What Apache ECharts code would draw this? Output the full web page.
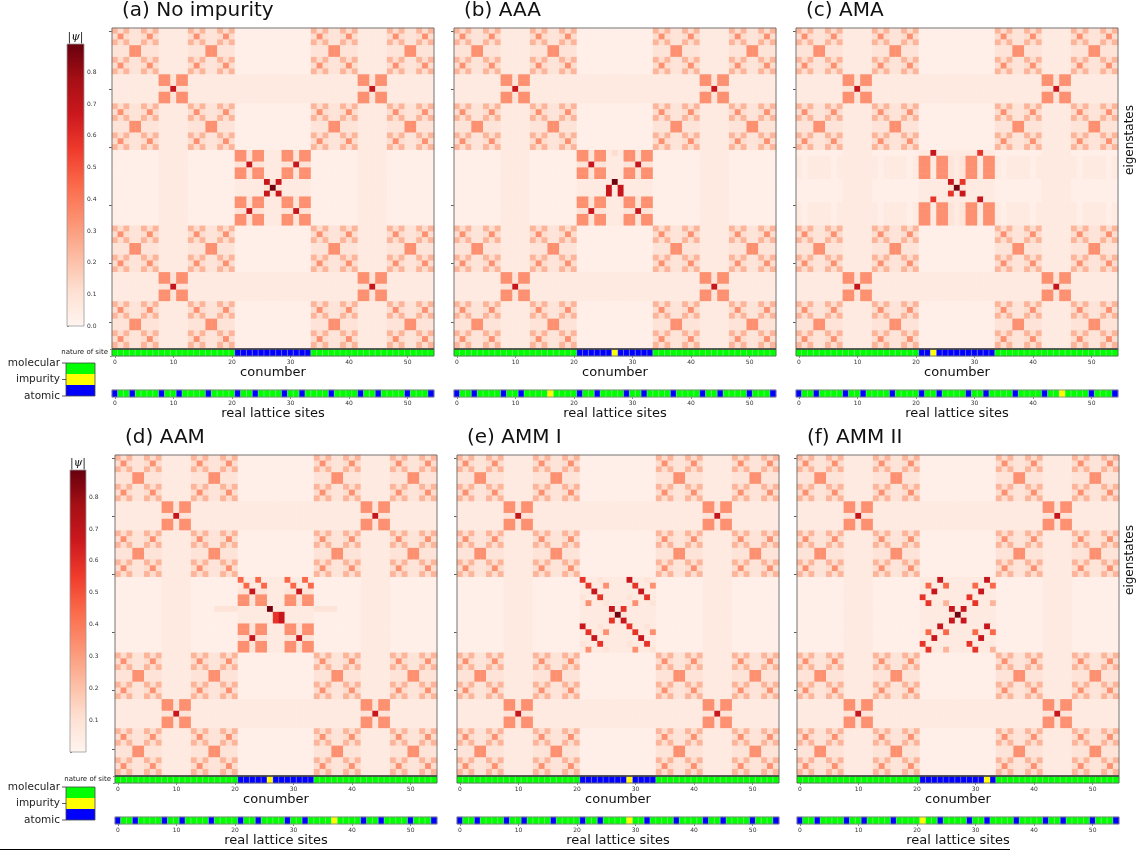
<!DOCTYPE html>
<html>
<head>
<meta charset="utf-8">
<title>Eigenstates vs conumber</title>
<script src="https://cdn.jsdelivr.net/npm/echarts@6/dist/echarts.min.js"></script>
<style>
  html, body { margin: 0; padding: 0; background: #fff; }
  #chart { width: 1145px; height: 851px; }
</style>
</head>
<body>
<div id="chart"></div>
<script>
// |psi| value for each digit used in the row strings
var levels = [0.03, 0.06, 0.09, 0.12, 0.24, 0.34, 0.45, 0.58, 0.68, 0.87];

// (a) no impurity: one string per eigenstate (row 0 at top), one digit per conumber
var rowsA = [
    "434224341111143422434" + "0000000000000" + "434224341111143422434",
    "353223531111135322353" + "0000000000000" + "353223531111135322353",
    "434224341111143422434" + "0000000000000" + "434224341111143422434",
    "222552221111122255222" + "0000000000000" + "222552221111122255222",
    "222552221111122255222" + "0000000000000" + "222552221111122255222",
    "434224341111143422434" + "0000000000000" + "434224341111143422434",
    "353223531111135322353" + "0000000000000" + "353223531111135322353",
    "434224341111143422434" + "0000000000000" + "434224341111143422434",
    "111111115525511111111" + "1111111111111" + "111111115525511111111",
    "111111115525511111111" + "1111111111111" + "111111115525511111111",
    "111111112282211111111" + "1111111111111" + "111111112282211111111",
    "111111115525511111111" + "1111111111111" + "111111115525511111111",
    "111111115525511111111" + "1111111111111" + "111111115525511111111",
    "434224341111143422434" + "0000000000000" + "434224341111143422434",
    "353223531111135322353" + "0000000000000" + "353223531111135322353",
    "434224341111143422434" + "0000000000000" + "434224341111143422434",
    "222552221111122255222" + "0000000000000" + "222552221111122255222",
    "222552221111122255222" + "0000000000000" + "222552221111122255222",
    "434224341111143422434" + "0000000000000" + "434224341111143422434",
    "353223531111135322353" + "0000000000000" + "353223531111135322353",
    "434224341111143422434" + "0000000000000" + "434224341111143422434",
    "000000001111100000000" + "5525511155255" + "000000001111100000000",
    "000000001111100000000" + "5525511155255" + "000000001111100000000",
    "000000001111100000000" + "2282211122822" + "000000001111100000000",
    "000000001111100000000" + "5525511155255" + "000000001111100000000",
    "000000001111100000000" + "5525511155255" + "000000001111100000000",
    "000000001111100000000" + "1111182811111" + "000000001111100000000",
    "000000001111100000000" + "1111129211111" + "000000001111100000000",
    "000000001111100000000" + "1111182811111" + "000000001111100000000",
    "000000001111100000000" + "5525511155255" + "000000001111100000000",
    "000000001111100000000" + "5525511155255" + "000000001111100000000",
    "000000001111100000000" + "2282211122822" + "000000001111100000000",
    "000000001111100000000" + "5525511155255" + "000000001111100000000",
    "000000001111100000000" + "5525511155255" + "000000001111100000000",
    "434224341111143422434" + "0000000000000" + "434224341111143422434",
    "353223531111135322353" + "0000000000000" + "353223531111135322353",
    "434224341111143422434" + "0000000000000" + "434224341111143422434",
    "222552221111122255222" + "0000000000000" + "222552221111122255222",
    "222552221111122255222" + "0000000000000" + "222552221111122255222",
    "434224341111143422434" + "0000000000000" + "434224341111143422434",
    "353223531111135322353" + "0000000000000" + "353223531111135322353",
    "434224341111143422434" + "0000000000000" + "434224341111143422434",
    "111111115525511111111" + "1111111111111" + "111111115525511111111",
    "111111115525511111111" + "1111111111111" + "111111115525511111111",
    "111111112282211111111" + "1111111111111" + "111111112282211111111",
    "111111115525511111111" + "1111111111111" + "111111115525511111111",
    "111111115525511111111" + "1111111111111" + "111111115525511111111",
    "434224341111143422434" + "0000000000000" + "434224341111143422434",
    "353223531111135322353" + "0000000000000" + "353223531111135322353",
    "434224341111143422434" + "0000000000000" + "434224341111143422434",
    "222552221111122255222" + "0000000000000" + "222552221111122255222",
    "222552221111122255222" + "0000000000000" + "222552221111122255222",
    "434224341111143422434" + "0000000000000" + "434224341111143422434",
    "353223531111135322353" + "0000000000000" + "353223531111135322353",
    "434224341111143422434" + "0000000000000" + "434224341111143422434"
];

// rows 21..33 of the impurity panels; the other rows look like (a)
var centreB = [
    "000000001111100000000" + "5525513155255" + "000000001111100000000",
    "000000001111100000000" + "5525511155255" + "000000001111100000000",
    "000000001111100000000" + "2282211122822" + "000000001111100000000",
    "000000001111100000000" + "5525511155255" + "000000001111100000000",
    "000000001111100000000" + "5525511155255" + "000000001111100000000",
    "000000001111100000000" + "1111119111111" + "000000001111100000000",
    "000000001111100000000" + "1111181811111" + "000000001111100000000",
    "000000001111100000000" + "1111181811111" + "000000001111100000000",
    "000000001111100000000" + "5525511155255" + "000000001111100000000",
    "000000001111100000000" + "5525511155255" + "000000001111100000000",
    "000000001111100000000" + "2282211122822" + "000000001111100000000",
    "000000001111100000000" + "5525511155255" + "000000001111100000000",
    "000000001111100000000" + "5525511155255" + "000000001111100000000"
];
var centreC = [
    "000000001111100000000" + "1181111111711" + "000000001111100000000",
    "101111011111110111101" + "5515521255155" + "101111011111110111101",
    "101111011111110111101" + "5515521255155" + "101111011111110111101",
    "101111011111110111101" + "5515521255155" + "101111011111110111101",
    "101111011111110111101" + "5515521255155" + "101111011111110111101",
    "000000001111100000000" + "1111181711111" + "000000001111100000000",
    "000000001111100000000" + "1111129211111" + "000000001111100000000",
    "000000001111100000000" + "1111171811111" + "000000001111100000000",
    "000000001111100000000" + "1171111111811" + "000000001111100000000",
    "101111011111110111101" + "5515521255155" + "101111011111110111101",
    "101111011111110111101" + "5515521255155" + "101111011111110111101",
    "101111011111110111101" + "5515521255155" + "101111011111110111101",
    "101111011111110111101" + "5515521255155" + "101111011111110111101"
];
var centreD = [
    "000000001111100000000" + "6116111161161" + "000000001111100000000",
    "000000001111100000000" + "1611611116116" + "000000001111100000000",
    "000000001111100000000" + "2282211122822" + "000000001111100000000",
    "000000001111100000000" + "5525511155255" + "000000001111100000000",
    "000000001111100000000" + "5525511155255" + "000000001111100000000",
    "000000001111100002222" + "1111191111111" + "222200001111100000000",
    "000000001111100000000" + "1111117811111" + "000000001111100000000",
    "000000001111100000000" + "1111117811111" + "000000001111100000000",
    "000000001111100000000" + "5525511155255" + "000000001111100000000",
    "000000001111100000000" + "5525511155255" + "000000001111100000000",
    "000000001111100000000" + "2282211122822" + "000000001111100000000",
    "000000001111100000000" + "5525511155255" + "000000001111100000000",
    "000000001111100000000" + "5525511155255" + "000000001111100000000"
];
var centreE = [
    "000000001111100000000" + "7112111181121" + "000000001111100000000",
    "000000001111100000000" + "1711511117115" + "000000001111100000000",
    "000000001111100000000" + "1181111111811" + "000000001111100000000",
    "000000001111100000000" + "2117111121171" + "000000001111100000000",
    "000000001111100000000" + "1511211115112" + "000000001111100000000",
    "000000001111100000000" + "1111181711111" + "000000001111100000000",
    "000000001111100000000" + "1111129211111" + "000000001111100000000",
    "000000001111100000000" + "1111171811111" + "000000001111100000000",
    "000000001111100000000" + "8112111171121" + "000000001111100000000",
    "000000001111100000000" + "1711511117115" + "000000001111100000000",
    "000000001111100000000" + "1181111111811" + "000000001111100000000",
    "000000001111100000000" + "2117111121171" + "000000001111100000000",
    "000000001111100000000" + "1511211115112" + "000000001111100000000"
];
var centreF = [
    "000000001111100000000" + "1118111111181" + "000000001111100000000",
    "000000001111100000000" + "1611611116116" + "000000001111100000000",
    "000000001111100000000" + "1181111111811" + "000000001111100000000",
    "000000001111100000000" + "7111111171111" + "000000001111100000000",
    "000000001111100000000" + "1711411117114" + "000000001111100000000",
    "000000001111100000000" + "1111181811111" + "000000001111100000000",
    "000000001111100000000" + "1111129211111" + "000000001111100000000",
    "000000001111100000000" + "1111181811111" + "000000001111100000000",
    "000000001111100000000" + "1118111111181" + "000000001111100000000",
    "000000001111100000000" + "1611611116116" + "000000001111100000000",
    "000000001111100000000" + "1181111111811" + "000000001111100000000",
    "000000001111100000000" + "7111111171111" + "000000001111100000000",
    "000000001111100000000" + "1711411117114" + "000000001111100000000"
];

// nature of site: 0 molecular, 1 impurity, 2 atomic
var conumberA = "000000000000000000000" + "2222222222222" + "000000000000000000000";
var conumberB = "000000000000000000000" + "2222221222222" + "000000000000000000000";
var conumberC = "000000000000000000000" + "2212222222222" + "000000000000000000000";
var conumberD = "000000000000000000000" + "2222212222222" + "000000000000000000000";
var conumberE = "000000000000000000000" + "2222222212222" + "000000000000000000000";
var conumberF = "000000000000000000000" + "2222222222212" + "000000000000000000000";

var latticeA = "2002000020" + "0200002000" + "0200200002" + "0020000200" + "0020020000" + "20002";
var latticeB = "2002000020" + "0200001000" + "0200200002" + "0020000200" + "0020020000" + "20002";
var latticeC = "2002000020" + "0200002000" + "0200200002" + "0020000200" + "0020010000" + "20002";
var latticeD = "2002000020" + "0200002000" + "0200200002" + "0020000100" + "0020020000" + "20002";
var latticeE = "2002000020" + "0200002000" + "0200200001" + "0020000200" + "0020020000" + "20002";
var latticeF = "2002000020" + "0200002000" + "0100200002" + "0020000200" + "0020020000" + "20002";

var siteTypes = ['molecular', 'impurity', 'atomic'];
var cbTicks = [0, 0.1, 0.2, 0.3, 0.4, 0.5, 0.6, 0.7, 0.8];

var FONT = 'DejaVu Sans';
var reds = ['#fff5f0', '#fee0d2', '#fcbba1', '#fc9272', '#fb6a4a', '#ef3b2c', '#cb181d', '#a50f15', '#67000d'];
var siteColors = ['#00ff00', '#ffff00', '#0000ff'];

function withCentre(centre) {
    return rowsA.slice(0, 21).concat(centre, rowsA.slice(34));
}

var panels = [
    { title: '(a) No impurity', left: 112, top: 28, rows: rowsA, con: conumberA, lat: latticeA },
    { title: '(b) AAA', left: 454, top: 28, rows: withCentre(centreB), con: conumberB, lat: latticeB },
    { title: '(c) AMA', left: 796, top: 28, rows: withCentre(centreC), con: conumberC, lat: latticeC },
    { title: '(d) AAM', left: 115, top: 455, rows: withCentre(centreD), con: conumberD, lat: latticeD },
    { title: '(e) AMM I', left: 457, top: 455, rows: withCentre(centreE), con: conumberE, lat: latticeE },
    { title: '(f) AMM II', left: 797, top: 455, rows: withCentre(centreF), con: conumberF, lat: latticeF }
];

var cats = [];
for (var i = 0; i < 55; i++) cats.push(String(i));

function every10(idx) { return idx % 10 === 0; }

function heatData(rows) {
    var out = [];
    rows.forEach(function (row, r) {
        for (var c = 0; c < row.length; c++) out.push([c, r, levels[+row[c]]]);
    });
    return out;
}
function stripData(str) {
    var out = [];
    for (var c = 0; c < str.length; c++) out.push([c, 0, +str[c]]);
    return out;
}

var grids = [], xAxes = [], yAxes = [], series = [], graphics = [];
var heatIdx = [], stripIdx = [];
var W = 322, H = 320;

panels.forEach(function (p, k) {
    var g = grids.length;
    grids.push({ left: p.left, top: p.top, width: W, height: H });
    grids.push({ left: p.left, top: p.top + 321, width: W, height: 7 });
    grids.push({ left: p.left, top: p.top + 362, width: W, height: 7 });

    // heatmap
    xAxes.push({ gridIndex: g, type: 'category', data: cats, show: false });
    yAxes.push({
        gridIndex: g, type: 'category', data: cats, inverse: true,
        axisLine: { show: false }, splitLine: { show: false },
        axisLabel: { show: false, interval: every10 },
        axisTick: { show: true, interval: every10, alignWithLabel: true, length: 3, lineStyle: { color: '#333', width: 0.8 } }
    });
    heatIdx.push(series.length);
    series.push({
        type: 'heatmap', xAxisIndex: g, yAxisIndex: g, data: heatData(p.rows),
        progressive: 0, emphasis: { disabled: true }
    });

    // conumber strip
    xAxes.push({
        gridIndex: g + 1, type: 'category', data: cats,
        axisLine: { show: false },
        axisTick: { show: true, interval: every10, alignWithLabel: true, length: 2, lineStyle: { color: '#333', width: 0.6 } },
        axisLabel: { interval: every10, fontSize: 6, margin: 3, color: '#333', fontFamily: FONT },
        name: 'conumber', nameLocation: 'middle', nameGap: 10,
        nameTextStyle: { fontSize: 13, color: '#111', fontFamily: FONT, verticalAlign: 'top' }
    });
    yAxes.push({
        gridIndex: g + 1, type: 'category', data: ['nature of site'],
        show: k % 3 === 0,
        axisLine: { show: false },
        axisTick: { show: true, length: 2, lineStyle: { color: '#333', width: 0.6 } },
        axisLabel: { fontSize: 7, margin: 4, color: '#222', fontFamily: FONT }
    });
    stripIdx.push(series.length);
    series.push({
        type: 'heatmap', xAxisIndex: g + 1, yAxisIndex: g + 1, data: stripData(p.con),
        itemStyle: { borderColor: 'rgba(255,255,255,0.55)', borderWidth: 0.6 },
        progressive: 0, emphasis: { disabled: true }
    });

    // real lattice strip
    xAxes.push({
        gridIndex: g + 2, type: 'category', data: cats,
        axisLine: { show: false },
        axisTick: { show: true, interval: every10, alignWithLabel: true, length: 2, lineStyle: { color: '#333', width: 0.6 } },
        axisLabel: { interval: every10, fontSize: 6, margin: 3, color: '#333', fontFamily: FONT },
        name: 'real lattice sites', nameLocation: 'middle', nameGap: 9,
        nameTextStyle: { fontSize: 13, color: '#111', fontFamily: FONT, verticalAlign: 'top' }
    });
    yAxes.push({ gridIndex: g + 2, type: 'category', data: [''], show: false });
    stripIdx.push(series.length);
    series.push({
        type: 'heatmap', xAxisIndex: g + 2, yAxisIndex: g + 2, data: stripData(p.lat),
        itemStyle: { borderColor: 'rgba(255,255,255,0.55)', borderWidth: 0.6 },
        progressive: 0, emphasis: { disabled: true }
    });

    // frames and title
    graphics.push({ type: 'rect', z: 100, shape: { x: p.left, y: p.top, width: W, height: H + 1 },
        style: { fill: 'none', stroke: '#777', lineWidth: 1 } });
    graphics.push({ type: 'line', z: 100, shape: { x1: p.left, y1: p.top + 321, x2: p.left + W, y2: p.top + 321 },
        style: { stroke: '#111', lineWidth: 1.2 } });
    graphics.push({ type: 'rect', z: 100, shape: { x: p.left, y: p.top + 321, width: W, height: 7 },
        style: { fill: 'none', stroke: '#555', lineWidth: 0.8 } });
    graphics.push({ type: 'rect', z: 100, shape: { x: p.left, y: p.top + 362, width: W, height: 7 },
        style: { fill: 'none', stroke: '#777', lineWidth: 0.8 } });
    graphics.push({ type: 'text', z: 100, x: p.left + 10, y: p.top - 17,
        style: { text: p.title, fontSize: 20, fontFamily: FONT, fill: '#111',
            textVerticalAlign: 'middle', verticalAlign: 'middle' } });
});

// colour bars (a) and (d)
var bars = [
    { left: 67, top: 44, width: 17, height: 282, max: 0.89, showZero: true },
    { left: 70, top: 470, width: 16, height: 282, max: 0.885, showZero: false }
];
var gradStops = reds.slice().reverse().map(function (c, j) { return { offset: j / (reds.length - 1), color: c }; });
bars.forEach(function (b) {
    var g = grids.length;
    grids.push({ left: b.left, top: b.top, width: b.width, height: b.height });
    xAxes.push({ gridIndex: g, type: 'value', show: false, min: 0, max: 1 });
    yAxes.push({
        gridIndex: g, type: 'value', position: 'right', min: 0, max: b.max, interval: 0.1,
        axisLine: { show: false }, splitLine: { show: false },
        axisTick: { show: true, length: 2, lineStyle: { color: '#333', width: 0.6 } },
        axisLabel: {
            fontSize: 6, margin: 3, color: '#333', fontFamily: FONT, showMaxLabel: false,
            formatter: function (v) {
                var hit = cbTicks.some(function (t) { return Math.abs(t - v) < 1e-6; });
                if (!hit || (v === 0 && !b.showZero)) return '';
                return v.toFixed(1);
            }
        }
    });
    graphics.push({ type: 'rect', z: 90, shape: { x: b.left, y: b.top, width: b.width, height: b.height },
        style: { fill: new echarts.graphic.LinearGradient(0, 0, 0, 1, gradStops), stroke: '#999', lineWidth: 0.8 } });
    graphics.push({ type: 'text', z: 100, x: b.left + b.width / 2, y: b.top - 7,
        style: { text: '|ψ|', fontSize: 11, fontFamily: 'DejaVu Serif', fontStyle: 'italic', fill: '#111',
            textAlign: 'center', align: 'center', textVerticalAlign: 'middle', verticalAlign: 'middle' } });
});

// site legend boxes
[{ top: 363 }, { top: 787 }].forEach(function (lg) {
    siteColors.forEach(function (col, j) {
        graphics.push({ type: 'rect', z: 90, shape: { x: 66, y: lg.top + j * 11, width: 29, height: 11 },
            style: { fill: col, stroke: 'none' } });
    });
    graphics.push({ type: 'rect', z: 91, shape: { x: 66, y: lg.top, width: 29, height: 33 },
        style: { fill: 'none', stroke: '#444', lineWidth: 0.8 } });
    siteTypes.forEach(function (name, j) {
        var y = lg.top + j * 16.5;
        graphics.push({ type: 'line', z: 91, shape: { x1: 62, y1: y, x2: 66, y2: y },
            style: { stroke: '#333', lineWidth: 0.8 } });
        graphics.push({ type: 'text', z: 100, x: 60, y: y,
            style: { text: name, fontSize: 10.5, fontFamily: FONT, fill: '#222',
                textAlign: 'right', align: 'right', textVerticalAlign: 'middle', verticalAlign: 'middle' } });
    });
});

// eigenstates labels on the right
[140, 560].forEach(function (y) {
    graphics.push({ type: 'text', z: 100, x: 1130, y: y, rotation: Math.PI / 2,
        style: { text: 'eigenstates', fontSize: 12, fontFamily: FONT, fill: '#111',
            textAlign: 'center', align: 'center', textVerticalAlign: 'middle', verticalAlign: 'middle' } });
});
graphics.push({ type: 'line', z: 100, shape: { x1: 0, y1: 849.5, x2: 1010, y2: 849.5 },
    style: { stroke: '#000', lineWidth: 1 } });

grids.forEach(function (g) { g.containLabel = false; g.outerBoundsMode = 'none'; });

var chart = echarts.init(document.getElementById('chart'));
chart.setOption({
    animation: false,
    backgroundColor: '#fff',
    textStyle: { fontFamily: FONT },
    grid: grids,
    xAxis: xAxes,
    yAxis: yAxes,
    visualMap: [
        { type: 'continuous', show: false, min: 0, max: 0.89, seriesIndex: heatIdx, inRange: { color: reds } },
        { type: 'piecewise', show: false, seriesIndex: stripIdx,
            pieces: [{ value: 0, color: siteColors[0] }, { value: 1, color: siteColors[1] }, { value: 2, color: siteColors[2] }] }
    ],
    series: series,
    graphic: { elements: graphics }
});
</script>
</body>
</html>
